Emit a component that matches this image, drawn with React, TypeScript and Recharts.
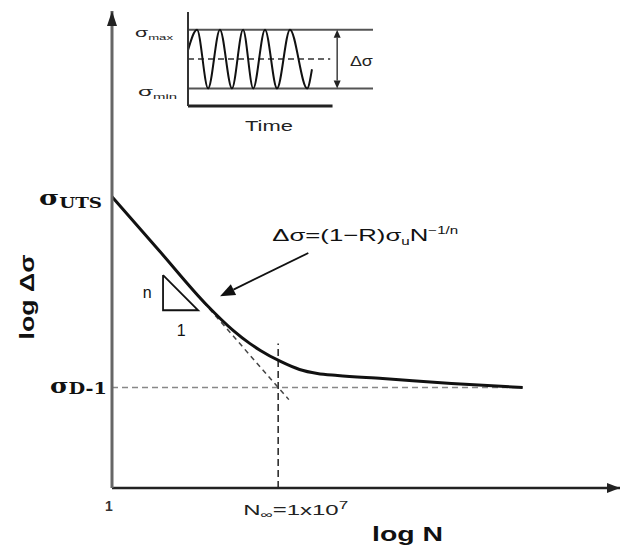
import { ComposedChart, LineChart, Line, XAxis, YAxis, ReferenceLine, ReferenceDot } from "recharts"

// S-N curve: x = log N (0 -> N=1, 7 -> N∞=1e7), y = log Δσ (arbitrary units)
const curveLogN = [0, 2, 4, 5.1, 5.8, 6.25, 7.1, 7.9, 8.65, 9.5, 11.4, 14.3, 17.3]
const curveLogS = [2.9, 2.36, 1.82, 1.57, 1.44, 1.37, 1.26, 1.18, 1.14, 1.12, 1.09, 1.04, 1.0]

// Basquin line carried on past the knee (dashed)
const basquinLogN = [3.6, 7.45]
const basquinLogS = [1.92, 0.88]

// slope triangle "n : 1"
const triLogN = [2.15, 2.15, 3.63, 2.15]
const triLogS = [2.12, 1.77, 1.77, 2.12]

const sigmaUTS = 2.9
const sigmaD1 = 1.0
const logNinf = 7
const limitEnd = 17.3
const kneeTop = 1.44
const xMax = 21.4
const yMax = 4.75

const xTicks = [0, logNinf]
const yTicks = [sigmaD1, sigmaUTS]

// annotation anchors (data units)
const arrowFrom = { x: 8.27, y: 2.34 }
const arrowTo = { x: 4.55, y: 1.91 }
const formulaAt = { x: 6.75, y: 2.46 }
const nLabelAt = { x: 1.48, y: 1.89 }
const oneLabelAt = { x: 2.91, y: 1.51 }

// inset: constant amplitude loading vs time (t in cycles)
const waveT = [0, 0.39, 0.87, 1.38, 1.9, 2.38, 2.82, 3.33, 3.85, 4.41, 5.15, 5.36]
const waveS = [0.3, 1, -1, 1, -1, 1, -1, 1, -1, 1, -1, -0.35]
const sigmaMax = 1
const sigmaMin = -1
const sigmaMean = 0
const meanEnd = 6.15
const timeAxisEnd = 6.25
const rangeArrowT = 6.45
const rangeLabelAt = { x: 7.0, y: -0.24 }
const insetTMax = 8
const insetSLo = -1.6
const insetSHi = 1.6

const FONT = "'Liberation Sans', Arial, sans-serif"
const SERIF = "'DejaVu Serif', 'Liberation Serif', serif"
const INK = "#111"

const zip = (xs: number[], ys: number[]) => xs.map((x, i) => ({ x, y: ys[i] }))

const curveData = zip(curveLogN, curveLogS)
const basquinData = zip(basquinLogN, basquinLogS)
const triData = zip(triLogN, triLogS)
const waveData = zip(waveT, waveS)

// line with filled arrow head(s), used as a ReferenceLine shape
function arrowShape(heads: "end" | "both", len: number, half: number, color: string, width: number) {
  return (p: any) => {
    const { x1, y1, x2, y2 } = p
    const d = Math.hypot(x2 - x1, y2 - y1) || 1
    const ux = (x2 - x1) / d
    const uy = (y2 - y1) / d
    const head = (tx: number, ty: number, sx: number, sy: number) => {
      const bx = tx - sx * len
      const by = ty - sy * len
      return `${tx},${ty} ${bx - sy * half},${by + sx * half} ${bx + sy * half},${by - sx * half}`
    }
    const sx1 = heads === "both" ? x1 + ux * len : x1
    const sy1 = heads === "both" ? y1 + uy * len : y1
    return (
      <g>
        <line x1={sx1} y1={sy1} x2={x2 - ux * len} y2={y2 - uy * len} stroke={color} strokeWidth={width} />
        <polygon points={head(x2, y2, ux, uy)} fill={color} />
        {heads === "both" && <polygon points={head(x1, y1, -ux, -uy)} fill={color} />}
      </g>
    )
  }
}

function SigmaTick({ x, y, payload }: any) {
  const isUTS = payload.value === sigmaUTS
  return (
    <text
      x={isUTS ? x - 73 : x - 62}
      y={y + (isUTS ? 8 : 5)}
      fontFamily={SERIF}
      fontWeight="bold"
      fill={INK}
      textLength={isUTS ? 63 : 57}
      lengthAdjust="spacingAndGlyphs"
    >
      <tspan fontSize={21}>σ</tspan>
      <tspan fontSize={isUTS ? 14 : 16} dy={isUTS ? 3 : 1}>{isUTS ? "UTS" : "D-1"}</tspan>
    </text>
  )
}

function LogNTick({ x, y, payload }: any) {
  if (payload.value === 0) {
    return (
      <text x={x - 3} y={y + 23} textAnchor="middle" fontFamily={FONT} fontWeight="bold" fontSize={14} fill="#333">
        1
      </text>
    )
  }
  return (
    <text x={x - 35} y={y + 27} fontFamily={FONT} fontSize={14} fill="#222" textLength={105} lengthAdjust="spacingAndGlyphs">
      N<tspan fontSize={10} dy={3}>∞</tspan>
      <tspan dy={-3}>=1x10</tspan>
      <tspan fontSize={10} dy={-6}>7</tspan>
    </text>
  )
}

function InsetTick({ x, y, payload }: any) {
  const isMax = payload.value === sigmaMax
  return (
    <text
      x={isMax ? x - 53 : x - 50}
      y={y + (isMax ? 7 : 8)}
      fontFamily={FONT}
      fill="#222"
      textLength={isMax ? 38 : 39}
      lengthAdjust="spacingAndGlyphs"
    >
      <tspan fontSize={13}>σ</tspan>
      <tspan fontSize={8} dy={3}>{isMax ? "max" : "min"}</tspan>
    </text>
  )
}

function TimeTick({ x, y }: any) {
  return (
    <text x={x} y={y + 25} textAnchor="middle" fontFamily={FONT} fontSize={15} fill="#222" textLength={48} lengthAdjust="spacingAndGlyphs">
      Time
    </text>
  )
}

export default function App() {
  return (
    <div style={{ position: "absolute", left: 0, top: 0, width: 621, height: 556, background: "#fff" }}>
      <div style={{ position: "absolute", left: 0, top: 0 }}>
        <ComposedChart width={621} height={556} margin={{ top: 11, right: 1, bottom: 0, left: 0 }}>
          <XAxis
            type="number"
            dataKey="x"
            domain={[0, xMax]}
            allowDataOverflow
            ticks={xTicks}
            interval={0}
            tick={<LogNTick />}
            tickLine={false}
            tickSize={0}
            tickMargin={0}
            height={68}
            axisLine={{ stroke: "#222", strokeWidth: 2.5 }}
            label={{
              content: (p: any) => (
                <text
                  x={p.viewBox.x + 260}
                  y={p.viewBox.y + 53}
                  fontFamily={FONT}
                  fontWeight="bold"
                  fontSize={20}
                  fill={INK}
                  textLength={71}
                  lengthAdjust="spacingAndGlyphs"
                >
                  log N
                </text>
              ),
            }}
          />
          <YAxis
            type="number"
            dataKey="y"
            domain={[0, yMax]}
            allowDataOverflow
            ticks={yTicks}
            interval={0}
            tick={<SigmaTick />}
            tickLine={false}
            tickSize={0}
            tickMargin={0}
            width={112}
            axisLine={{ stroke: "#666", strokeWidth: 3 }}
            label={{
              content: (p: any) => {
                const cx = 34
                const cy = p.viewBox.y + 286
                return (
                  <text
                    x={cx}
                    y={cy}
                    textAnchor="middle"
                    transform={`rotate(-90, ${cx}, ${cy})`}
                    fontFamily={FONT}
                    fontWeight="bold"
                    fontSize={20}
                    fill={INK}
                    textLength={85}
                    lengthAdjust="spacingAndGlyphs"
                  >
                    log Δσ
                  </text>
                )
              },
            }}
          />

          <ReferenceLine
            ifOverflow="visible"
            segment={[{ x: 0, y: sigmaD1 }, { x: limitEnd, y: sigmaD1 }]}
            stroke="#888"
            strokeWidth={1.5}
            strokeDasharray="6 4"
          />
          <ReferenceLine
            ifOverflow="visible"
            segment={[{ x: logNinf, y: 0 }, { x: logNinf, y: kneeTop }]}
            stroke="#222"
            strokeWidth={1.5}
            strokeDasharray="7 4"
          />

          <Line
            data={basquinData}
            dataKey="y"
            type="linear"
            stroke="#444"
            strokeWidth={1.5}
            strokeDasharray="5 4"
            dot={false}
            activeDot={false}
            isAnimationActive={false}
          />
          <Line
            data={curveData}
            dataKey="y"
            type="monotone"
            stroke={INK}
            strokeWidth={3}
            dot={false}
            activeDot={false}
            isAnimationActive={false}
          />
          <Line
            data={triData}
            dataKey="y"
            type="linear"
            stroke={INK}
            strokeWidth={1.8}
            dot={false}
            activeDot={false}
            isAnimationActive={false}
          />

          <ReferenceLine
            ifOverflow="visible"
            segment={[arrowFrom, arrowTo]}
            shape={arrowShape("end", 15, 6, INK, 1.8)}
          />

          <ReferenceDot
            x={formulaAt.x}
            y={formulaAt.y}
            ifOverflow="visible"
            shape={(p: any) => (
              <text x={p.cx} y={p.cy} fontFamily={FONT} fontSize={17} fill={INK} textLength={186} lengthAdjust="spacingAndGlyphs">
                Δσ=(1−R)σ<tspan fontSize={10} dy={4}>u</tspan>
                <tspan dy={-4}>N</tspan>
                <tspan fontSize={10} dy={-7}>−1/n</tspan>
              </text>
            )}
          />
          <ReferenceDot
            x={nLabelAt.x}
            y={nLabelAt.y}
            ifOverflow="visible"
            shape={(p: any) => (
              <text x={p.cx} y={p.cy} textAnchor="middle" fontFamily={FONT} fontSize={16} fill={INK}>
                n
              </text>
            )}
          />
          <ReferenceDot
            x={oneLabelAt.x}
            y={oneLabelAt.y}
            ifOverflow="visible"
            shape={(p: any) => (
              <text x={p.cx} y={p.cy} textAnchor="middle" fontFamily={FONT} fontSize={16} fill={INK}>
                1
              </text>
            )}
          />

          {/* axis arrow heads */}
          <ReferenceDot
            x={0}
            y={yMax}
            ifOverflow="visible"
            shape={(p: any) => (
              <polygon points={`${p.cx},${p.cy} ${p.cx - 5},${p.cy + 15} ${p.cx + 5},${p.cy + 15}`} fill="#222" />
            )}
          />
          <ReferenceDot
            x={xMax}
            y={0}
            ifOverflow="visible"
            shape={(p: any) => (
              <polygon points={`${p.cx},${p.cy} ${p.cx - 13},${p.cy - 5} ${p.cx - 13},${p.cy + 5}`} fill="#222" />
            )}
          />
        </ComposedChart>
      </div>

      <div style={{ position: "absolute", left: 120, top: 0 }}>
        <LineChart width={260} height={140} margin={{ top: 12, right: 7, bottom: 0, left: 0 }}>
          <XAxis
            type="number"
            dataKey="x"
            domain={[0, insetTMax]}
            allowDataOverflow
            ticks={[3.5]}
            tick={<TimeTick />}
            tickLine={false}
            tickSize={0}
            tickMargin={0}
            axisLine={false}
            height={34}
          />
          <YAxis
            type="number"
            dataKey="y"
            domain={[insetSLo, insetSHi]}
            allowDataOverflow
            ticks={[sigmaMin, sigmaMax]}
            interval={0}
            tick={<InsetTick />}
            tickLine={false}
            tickSize={0}
            tickMargin={0}
            width={68}
            axisLine={{ stroke: "#333", strokeWidth: 2 }}
          />
          <ReferenceLine y={sigmaMax} stroke="#555" strokeWidth={2} />
          <ReferenceLine y={sigmaMin} stroke="#555" strokeWidth={2} />
          <ReferenceLine
            ifOverflow="visible"
            segment={[{ x: 0, y: sigmaMean }, { x: meanEnd, y: sigmaMean }]}
            stroke="#333"
            strokeWidth={1.3}
            strokeDasharray="6 4"
          />
          <ReferenceLine
            ifOverflow="visible"
            segment={[{ x: 0, y: insetSLo }, { x: timeAxisEnd, y: insetSLo }]}
            stroke="#222"
            strokeWidth={3}
          />
          <ReferenceLine
            ifOverflow="visible"
            segment={[{ x: rangeArrowT, y: sigmaMax }, { x: rangeArrowT, y: sigmaMin }]}
            shape={arrowShape("both", 8, 3.5, "#222", 1.3)}
          />
          <Line
            data={waveData}
            dataKey="y"
            type="monotone"
            stroke={INK}
            strokeWidth={2}
            dot={false}
            activeDot={false}
            isAnimationActive={false}
          />
          <ReferenceDot
            x={rangeLabelAt.x}
            y={rangeLabelAt.y}
            ifOverflow="visible"
            shape={(p: any) => (
              <text x={p.cx} y={p.cy} fontFamily={FONT} fontSize={14} fill="#222" textLength={23} lengthAdjust="spacingAndGlyphs">
                Δσ
              </text>
            )}
          />
        </LineChart>
      </div>
    </div>
  )
}
